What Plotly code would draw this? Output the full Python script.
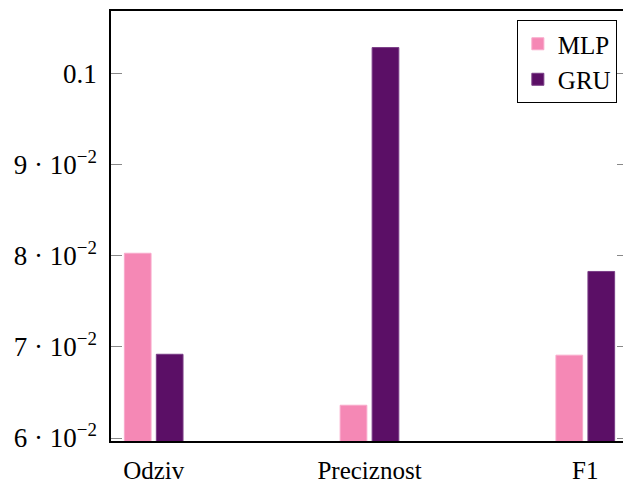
import plotly.graph_objects as go

categories = ["Odziv", "Preciznost", "F1"]
mlp_values = [0.0803, 0.0636, 0.0691]
gru_values = [0.0692, 0.1029, 0.0783]
ytick_vals = [0.06, 0.07, 0.08, 0.09, 0.10]
ytick_text = ["6 · 10<sup>−2</sup>", "7 · 10<sup>−2</sup>", "8 · 10<sup>−2</sup>",
              "9 · 10<sup>−2</sup>", "0.1"]

FONT = "Liberation Serif"
PINK = "#F588B5"
PURPLE = "#5B0F66"

x_idx = list(range(len(categories)))

fig = go.Figure()
fig.add_trace(go.Bar(
    x=x_idx, y=mlp_values, name="MLP",
    width=0.1237, offset=-0.136,
    marker=dict(color=PINK, line=dict(color="#F9A9CB", width=1)),
))
fig.add_trace(go.Bar(
    x=x_idx, y=gru_values, name="GRU",
    width=0.1237, offset=0.0122,
    marker=dict(color=PURPLE, line=dict(color="#7A3D86", width=1)),
))
# invisible trace to host right-side ticks
fig.add_trace(go.Scatter(x=[None], y=[None], yaxis="y2", showlegend=False, hoverinfo="skip"))

yrange = [0.05967, 0.10692]

fig.update_layout(
    width=623, height=485,
    margin=dict(l=111, r=0, t=11, b=44, autoexpand=False),
    paper_bgcolor="white", plot_bgcolor="white",
    font=dict(family=FONT, size=26, color="black"),
    barmode="overlay",
    showlegend=True,
    legend=dict(
        x=0.988, xanchor="right", y=0.979, yanchor="top",
        bordercolor="black", borderwidth=1, bgcolor="white",
        font=dict(family=FONT, size=25),
        itemwidth=30, tracegroupgap=0,
    ),
    xaxis=dict(
        range=[-0.1979, 2.1747], automargin=False,
        tickvals=x_idx, ticktext=categories,
        ticks="", showgrid=False, zeroline=False,
        showline=True, linecolor="black", linewidth=1.5, mirror=True,
        tickfont=dict(family=FONT, size=25),
        ticklabelstandoff=6,
    ),
    yaxis=dict(
        range=yrange, automargin=False,
        tickvals=ytick_vals, ticktext=ytick_text,
        ticks="inside", ticklen=11, tickcolor="#888888", tickwidth=1,
        showgrid=False, zeroline=False,
        showline=True, linecolor="black", linewidth=1.5,
        tickfont=dict(family=FONT, size=27),
        ticklabelstandoff=7,
    ),
    yaxis2=dict(
        range=yrange, overlaying="y", side="right", automargin=False,
        tickvals=ytick_vals, showticklabels=False,
        ticks="inside", ticklen=6, tickcolor="#888888", tickwidth=1,
        showgrid=False, zeroline=False, showline=False,
    ),
)

fig.write_html("out.html", config={"displayModeBar": False},
               post_script="document.body.style.margin='0';document.body.style.padding='0';")
